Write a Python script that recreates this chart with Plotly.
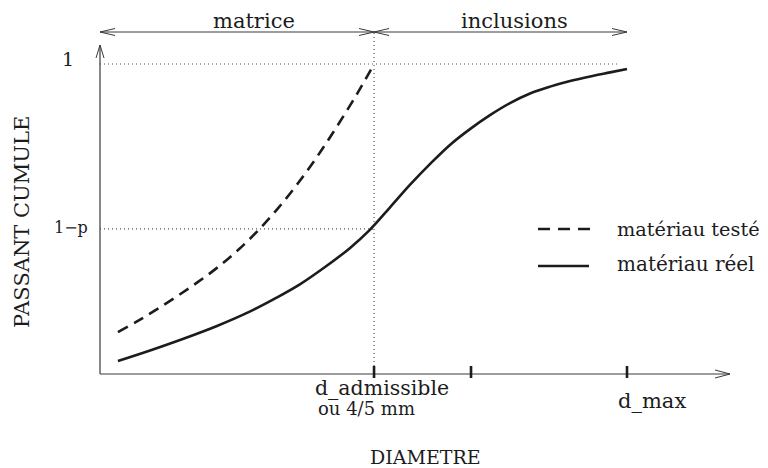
import plotly.graph_objects as go

# ---------------- data ----------------
# real material (solid curve): diameter (arbitrary units, d_max = 10) vs cumulative passing
diam_reel = [0.34, 0.95, 1.57, 2.22, 2.85, 3.36, 3.80, 4.27, 4.74, 5.12, 5.50, 5.88, 6.26,
             6.64, 7.02, 7.40, 7.78, 8.16, 8.54, 8.92, 9.30, 9.68, 10.0]
passant_reel = [0.042, 0.076, 0.113, 0.155, 0.202, 0.247, 0.290, 0.345, 0.406, 0.465,
                0.537, 0.610, 0.677, 0.739, 0.790, 0.835, 0.874, 0.905, 0.927, 0.945,
                0.960, 0.973, 0.984]

# tested material (dashed curve)
diam_teste = [0.34, 0.72, 1.10, 1.48, 1.86, 2.24, 2.62, 3.00, 3.38, 3.76, 4.14, 4.52,
              4.90, 5.20]
passant_teste = [0.135, 0.171, 0.211, 0.253, 0.297, 0.345, 0.400, 0.463, 0.535, 0.616,
                 0.706, 0.805, 0.910, 1.0]

d_admissible = 5.2
d_intermediate = 7.04
d_max = 10.0
x_tick_positions = [d_admissible, d_intermediate, d_max]
one_minus_p = 0.468
y_top = 1.0

y_tick_labels = ["1", "1\u2212p"]
x_tick_labels = ["d_admissible", "ou 4/5 mm", "d_max"]
zone_labels = ["matrice", "inclusions"]
series_names = ["mat\u00e9riau test\u00e9", "mat\u00e9riau r\u00e9el"]
x_title = "DIAMETRE"
y_title = "PASSANT CUMULE"

# ---------------- layout geometry (pixel scale of the drawing) ----------------
W, H = 768, 468
PAGE_MARGIN = 8                  # default body margin of the html page
X0_PX, Y0_PX = 100, 374          # pixel position of the origin in the window
SX, SY = 52.7, 310.0             # pixels per data unit


def xu(px):  # pixel distance -> x data units
    return px / SX


def yu(px):  # pixel distance -> y data units
    return px / SY


def px_x(px):  # absolute window pixel -> x data
    return (px - X0_PX) / SX


def px_y(py):  # absolute window pixel -> y data
    return (Y0_PX - py) / SY


FONT = "DejaVu Serif"
INK = "#1c1c1c"
AXIS = "#3a3a3a"
DOT = "#555555"

x_axis_end = px_x(730)
y_axis_end = px_y(45)
y_zone = px_y(32)
y_dot_end = px_x(620)

fig = go.Figure()


def line(xs, ys, color=AXIS, width=1.2, dash=None, shape="linear", smoothing=1.0):
    fig.add_trace(go.Scatter(x=xs, y=ys, mode="lines", hoverinfo="skip", showlegend=False,
                             line=dict(color=color, width=width, dash=dash, shape=shape,
                                       smoothing=smoothing)))


def chevron(tx, ty, direction, length_px, half_px):
    if direction == "right":
        xs = [tx - xu(length_px), tx, tx - xu(length_px)]
        ys = [ty + yu(half_px), ty, ty - yu(half_px)]
    elif direction == "left":
        xs = [tx + xu(length_px), tx, tx + xu(length_px)]
        ys = [ty + yu(half_px), ty, ty - yu(half_px)]
    else:  # up
        xs = [tx - xu(half_px), tx, tx + xu(half_px)]
        ys = [ty - yu(length_px), ty, ty - yu(length_px)]
    line(xs, ys, color=AXIS, width=1.0)


# dotted guide lines
line([0, y_dot_end], [y_top, y_top], color=DOT, width=1.2, dash="1px,3px")
line([0, d_admissible], [one_minus_p, one_minus_p], color=DOT, width=1.2, dash="1px,3px")
line([d_admissible, d_admissible], [0, y_zone], color=DOT, width=1.2, dash="1px,3px")

# axes
line([0, x_axis_end], [0, 0], color=AXIS, width=1.2)
line([0, 0], [0, y_axis_end], color=AXIS, width=1.2)
chevron(x_axis_end, 0, "right", 15, 4)
chevron(0, y_axis_end, "up", 13, 4)

# zone arrows (matrice / inclusions)
line([0, d_max], [y_zone, y_zone], color=AXIS, width=1.0)
chevron(0, y_zone, "left", 15, 3.5)
chevron(d_admissible, y_zone, "right", 15, 3.5)
chevron(d_admissible, y_zone, "left", 15, 3.5)
chevron(d_max, y_zone, "right", 15, 3.5)

# x ticks
for xt in x_tick_positions:
    line([xt, xt], [px_y(366), px_y(378)], color=INK, width=2.6)

# curves
line(diam_teste, passant_teste, color=INK, width=2.6, dash="11px,7px", shape="spline")
line(diam_reel, passant_reel, color=INK, width=2.6, shape="spline")

# legend samples
line([px_x(538), px_x(592)], [px_y(229), px_y(229)], color=INK, width=2.6, dash="12px,8px")
line([px_x(538), px_x(589)], [px_y(266), px_y(266)], color=INK, width=2.6)


def text(s, px, py, size, xanchor="center", angle=0):
    fig.add_annotation(x=px_x(px), y=px_y(py), text=s, showarrow=False, xanchor=xanchor,
                       yanchor="middle", textangle=angle,
                       font=dict(family=FONT, size=size, color=INK))


text(zone_labels[0], 254, 21, 21)
text(zone_labels[1], 514, 21, 21)
text(y_tick_labels[0], 68, 59, 19)
text(y_tick_labels[1], 71, 227, 16)
text(x_tick_labels[0], 382, 388, 20.5)
text(x_tick_labels[1], 366, 408, 18)
text(x_tick_labels[2], 652, 401, 21)
text(x_title, 425, 457, 19)
text(y_title, 22, 222, 21, angle=-90)
text(series_names[0], 615, 229, 19.3, xanchor="left")
text(series_names[1], 615, 264, 20, xanchor="left")

fig.update_layout(
    width=W - PAGE_MARGIN, height=H - PAGE_MARGIN, margin=dict(l=0, r=0, t=0, b=0),
    paper_bgcolor="white", plot_bgcolor="white", showlegend=False,
    xaxis=dict(visible=False, range=[px_x(PAGE_MARGIN), px_x(W)], domain=[0, 1]),
    yaxis=dict(visible=False, range=[px_y(H), px_y(PAGE_MARGIN)], domain=[0, 1]),
)

fig.write_html("out.html")
